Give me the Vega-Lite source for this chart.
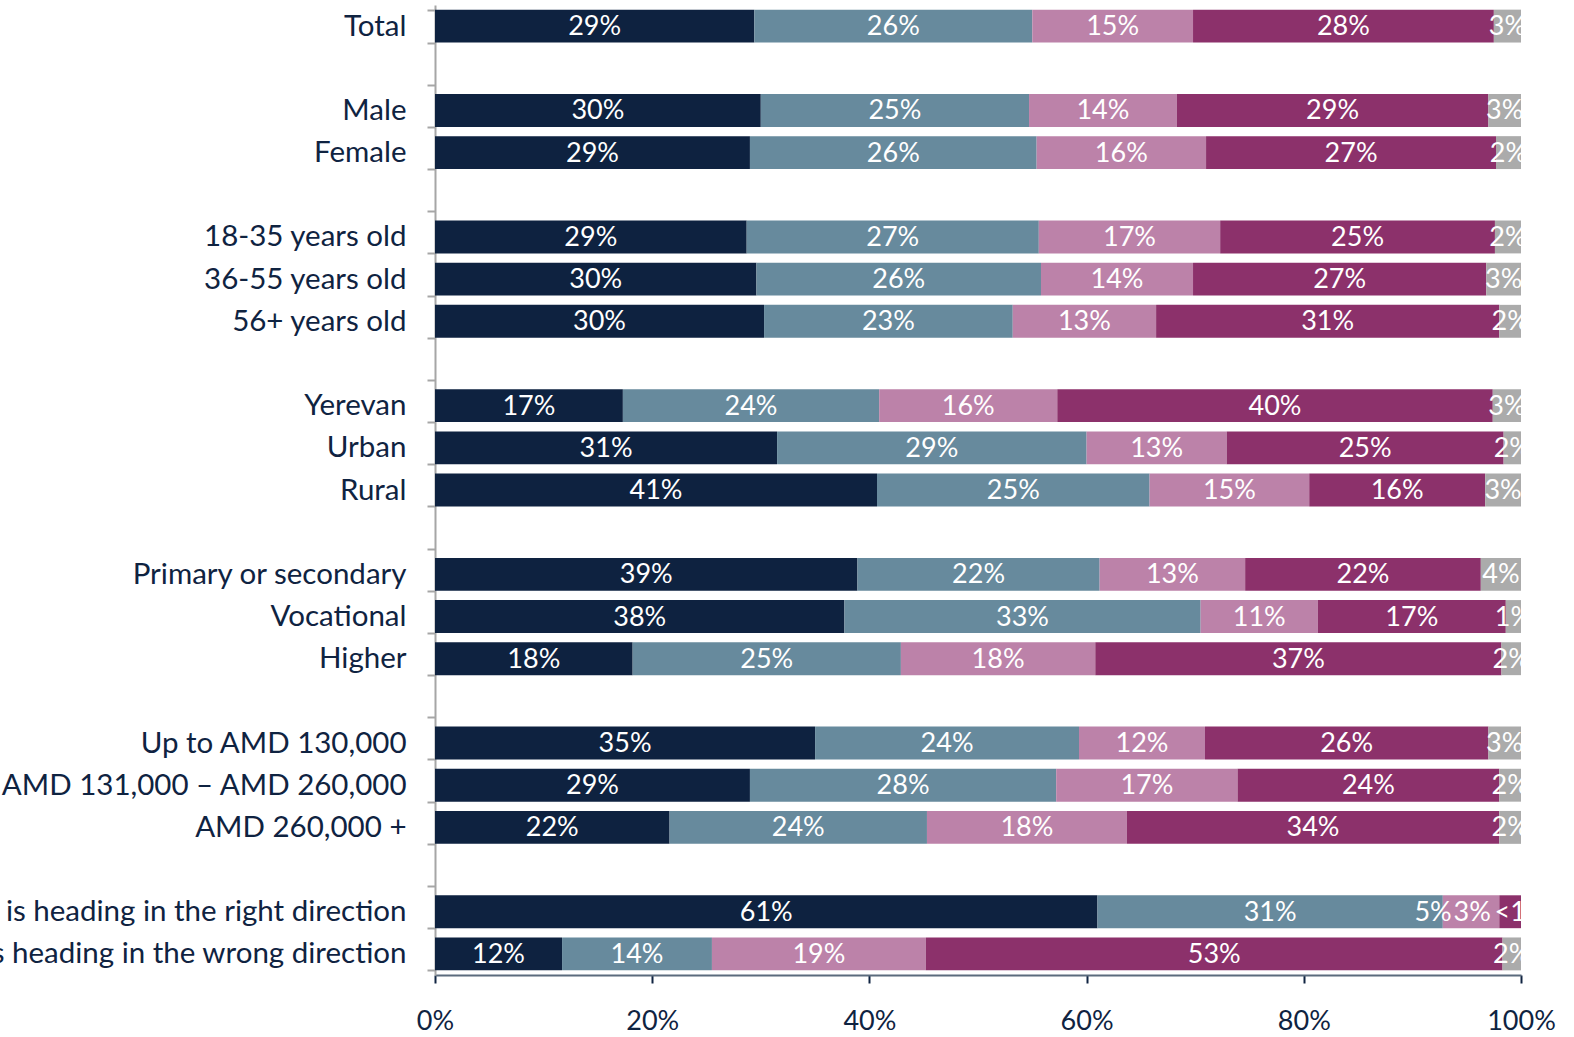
{
  "$schema": "https://vega.github.io/schema/vega-lite/v6.json",
  "width": 1086,
  "height": 970,
  "autosize": {"type": "none"},
  "padding": {"left": 435, "top": 5, "right": 53, "bottom": 62},
  "background": "white",
  "config": {"view": {"stroke": null}, "font": "Lato"},
  "datasets": {
    "survey": [
      {"group": "Total", "k": 1, "resp": "Very positive", "pct": 29.4, "label": "29%"},
      {"group": "Total", "k": 2, "resp": "Somewhat positive", "pct": 25.6, "label": "26%"},
      {"group": "Total", "k": 3, "resp": "Somewhat negative", "pct": 14.8, "label": "15%"},
      {"group": "Total", "k": 4, "resp": "Very negative", "pct": 27.7, "label": "28%"},
      {"group": "Total", "k": 5, "resp": "Don't know / Refused", "pct": 2.5, "label": "3%"},
      {"group": "Male", "k": 1, "resp": "Very positive", "pct": 30.0, "label": "30%"},
      {"group": "Male", "k": 2, "resp": "Somewhat positive", "pct": 24.7, "label": "25%"},
      {"group": "Male", "k": 3, "resp": "Somewhat negative", "pct": 13.6, "label": "14%"},
      {"group": "Male", "k": 4, "resp": "Very negative", "pct": 28.7, "label": "29%"},
      {"group": "Male", "k": 5, "resp": "Don't know / Refused", "pct": 3.0, "label": "3%"},
      {"group": "Female", "k": 1, "resp": "Very positive", "pct": 29.0, "label": "29%"},
      {"group": "Female", "k": 2, "resp": "Somewhat positive", "pct": 26.4, "label": "26%"},
      {"group": "Female", "k": 3, "resp": "Somewhat negative", "pct": 15.6, "label": "16%"},
      {"group": "Female", "k": 4, "resp": "Very negative", "pct": 26.7, "label": "27%"},
      {"group": "Female", "k": 5, "resp": "Don't know / Refused", "pct": 2.3, "label": "2%"},
      {"group": "18-35 years old", "k": 1, "resp": "Very positive", "pct": 28.7, "label": "29%"},
      {"group": "18-35 years old", "k": 2, "resp": "Somewhat positive", "pct": 26.9, "label": "27%"},
      {"group": "18-35 years old", "k": 3, "resp": "Somewhat negative", "pct": 16.7, "label": "17%"},
      {"group": "18-35 years old", "k": 4, "resp": "Very negative", "pct": 25.3, "label": "25%"},
      {"group": "18-35 years old", "k": 5, "resp": "Don't know / Refused", "pct": 2.4, "label": "2%"},
      {"group": "36-55 years old", "k": 1, "resp": "Very positive", "pct": 29.6, "label": "30%"},
      {"group": "36-55 years old", "k": 2, "resp": "Somewhat positive", "pct": 26.2, "label": "26%"},
      {"group": "36-55 years old", "k": 3, "resp": "Somewhat negative", "pct": 14.0, "label": "14%"},
      {"group": "36-55 years old", "k": 4, "resp": "Very negative", "pct": 27.0, "label": "27%"},
      {"group": "36-55 years old", "k": 5, "resp": "Don't know / Refused", "pct": 3.2, "label": "3%"},
      {"group": "56+ years old", "k": 1, "resp": "Very positive", "pct": 30.3, "label": "30%"},
      {"group": "56+ years old", "k": 2, "resp": "Somewhat positive", "pct": 22.9, "label": "23%"},
      {"group": "56+ years old", "k": 3, "resp": "Somewhat negative", "pct": 13.2, "label": "13%"},
      {"group": "56+ years old", "k": 4, "resp": "Very negative", "pct": 31.6, "label": "31%"},
      {"group": "56+ years old", "k": 5, "resp": "Don't know / Refused", "pct": 2.0, "label": "2%"},
      {"group": "Yerevan", "k": 1, "resp": "Very positive", "pct": 17.3, "label": "17%"},
      {"group": "Yerevan", "k": 2, "resp": "Somewhat positive", "pct": 23.6, "label": "24%"},
      {"group": "Yerevan", "k": 3, "resp": "Somewhat negative", "pct": 16.4, "label": "16%"},
      {"group": "Yerevan", "k": 4, "resp": "Very negative", "pct": 40.1, "label": "40%"},
      {"group": "Yerevan", "k": 5, "resp": "Don't know / Refused", "pct": 2.6, "label": "3%"},
      {"group": "Urban", "k": 1, "resp": "Very positive", "pct": 31.5, "label": "31%"},
      {"group": "Urban", "k": 2, "resp": "Somewhat positive", "pct": 28.5, "label": "29%"},
      {"group": "Urban", "k": 3, "resp": "Somewhat negative", "pct": 12.9, "label": "13%"},
      {"group": "Urban", "k": 4, "resp": "Very negative", "pct": 25.5, "label": "25%"},
      {"group": "Urban", "k": 5, "resp": "Don't know / Refused", "pct": 1.6, "label": "2%"},
      {"group": "Rural", "k": 1, "resp": "Very positive", "pct": 40.7, "label": "41%"},
      {"group": "Rural", "k": 2, "resp": "Somewhat positive", "pct": 25.1, "label": "25%"},
      {"group": "Rural", "k": 3, "resp": "Somewhat negative", "pct": 14.7, "label": "15%"},
      {"group": "Rural", "k": 4, "resp": "Very negative", "pct": 16.2, "label": "16%"},
      {"group": "Rural", "k": 5, "resp": "Don't know / Refused", "pct": 3.3, "label": "3%"},
      {"group": "Primary or secondary", "k": 1, "resp": "Very positive", "pct": 38.9, "label": "39%"},
      {"group": "Primary or secondary", "k": 2, "resp": "Somewhat positive", "pct": 22.3, "label": "22%"},
      {"group": "Primary or secondary", "k": 3, "resp": "Somewhat negative", "pct": 13.4, "label": "13%"},
      {"group": "Primary or secondary", "k": 4, "resp": "Very negative", "pct": 21.7, "label": "22%"},
      {"group": "Primary or secondary", "k": 5, "resp": "Don't know / Refused", "pct": 3.7, "label": "4%"},
      {"group": "Vocational", "k": 1, "resp": "Very positive", "pct": 37.7, "label": "38%"},
      {"group": "Vocational", "k": 2, "resp": "Somewhat positive", "pct": 32.8, "label": "33%"},
      {"group": "Vocational", "k": 3, "resp": "Somewhat negative", "pct": 10.8, "label": "11%"},
      {"group": "Vocational", "k": 4, "resp": "Very negative", "pct": 17.3, "label": "17%"},
      {"group": "Vocational", "k": 5, "resp": "Don't know / Refused", "pct": 1.4, "label": "1%"},
      {"group": "Higher", "k": 1, "resp": "Very positive", "pct": 18.2, "label": "18%"},
      {"group": "Higher", "k": 2, "resp": "Somewhat positive", "pct": 24.7, "label": "25%"},
      {"group": "Higher", "k": 3, "resp": "Somewhat negative", "pct": 17.9, "label": "18%"},
      {"group": "Higher", "k": 4, "resp": "Very negative", "pct": 37.4, "label": "37%"},
      {"group": "Higher", "k": 5, "resp": "Don't know / Refused", "pct": 1.8, "label": "2%"},
      {"group": "Up to AMD 130,000", "k": 1, "resp": "Very positive", "pct": 35.0, "label": "35%"},
      {"group": "Up to AMD 130,000", "k": 2, "resp": "Somewhat positive", "pct": 24.3, "label": "24%"},
      {"group": "Up to AMD 130,000", "k": 3, "resp": "Somewhat negative", "pct": 11.6, "label": "12%"},
      {"group": "Up to AMD 130,000", "k": 4, "resp": "Very negative", "pct": 26.1, "label": "26%"},
      {"group": "Up to AMD 130,000", "k": 5, "resp": "Don't know / Refused", "pct": 3.0, "label": "3%"},
      {"group": "AMD 131,000 – AMD 260,000", "k": 1, "resp": "Very positive", "pct": 29.0, "label": "29%"},
      {"group": "AMD 131,000 – AMD 260,000", "k": 2, "resp": "Somewhat positive", "pct": 28.2, "label": "28%"},
      {"group": "AMD 131,000 – AMD 260,000", "k": 3, "resp": "Somewhat negative", "pct": 16.7, "label": "17%"},
      {"group": "AMD 131,000 – AMD 260,000", "k": 4, "resp": "Very negative", "pct": 24.1, "label": "24%"},
      {"group": "AMD 131,000 – AMD 260,000", "k": 5, "resp": "Don't know / Refused", "pct": 2.0, "label": "2%"},
      {"group": "AMD 260,000 +", "k": 1, "resp": "Very positive", "pct": 21.6, "label": "22%"},
      {"group": "AMD 260,000 +", "k": 2, "resp": "Somewhat positive", "pct": 23.7, "label": "24%"},
      {"group": "AMD 260,000 +", "k": 3, "resp": "Somewhat negative", "pct": 18.4, "label": "18%"},
      {"group": "AMD 260,000 +", "k": 4, "resp": "Very negative", "pct": 34.3, "label": "34%"},
      {"group": "AMD 260,000 +", "k": 5, "resp": "Don't know / Refused", "pct": 2.0, "label": "2%"},
      {"group": "Armenia is heading in the right direction", "k": 1, "resp": "Very positive", "pct": 61.0, "label": "61%"},
      {"group": "Armenia is heading in the right direction", "k": 2, "resp": "Somewhat positive", "pct": 31.8, "label": "31%"},
      {"group": "Armenia is heading in the right direction", "k": 3, "resp": "Somewhat negative", "pct": 5.2, "label": "5%"},
      {"group": "Armenia is heading in the right direction", "k": 4, "resp": "Very negative", "pct": 2.0, "label": "3%"},
      {"group": "Armenia is heading in the right direction", "k": 5, "resp": "Don't know / Refused", "pct": 0.0, "label": "<1%"},
      {"group": "Armenia is heading in the wrong direction", "k": 1, "resp": "Very positive", "pct": 11.7, "label": "12%"},
      {"group": "Armenia is heading in the wrong direction", "k": 2, "resp": "Somewhat positive", "pct": 13.8, "label": "14%"},
      {"group": "Armenia is heading in the wrong direction", "k": 3, "resp": "Somewhat negative", "pct": 19.7, "label": "19%"},
      {"group": "Armenia is heading in the wrong direction", "k": 4, "resp": "Very negative", "pct": 53.1, "label": "53%"},
      {"group": "Armenia is heading in the wrong direction", "k": 5, "resp": "Don't know / Refused", "pct": 1.7, "label": "2%"}
    ]
  },
  "data": {"name": "survey"},
  "transform": [
    {"stack": "pct", "groupby": ["group"], "sort": [{"field": "k", "order": "ascending"}], "offset": "normalize", "as": ["x0", "x1"]},
    {"calculate": "(datum.x0 + datum.x1) / 2", "as": "mid"}
  ],
  "encoding": {
    "y": {
      "field": "group",
      "type": "nominal",
      "title": null,
      "scale": {
        "domain": ["Total", "blank1", "Male", "Female", "blank2", "18-35 years old", "36-55 years old", "56+ years old", "blank3", "Yerevan", "Urban", "Rural", "blank4", "Primary or secondary", "Vocational", "Higher", "blank5", "Up to AMD 130,000", "AMD 131,000 – AMD 260,000", "AMD 260,000 +", "blank6", "Armenia is heading in the right direction", "Armenia is heading in the wrong direction"],
        "paddingInner": 0.22,
        "paddingOuter": 0.11
      },
      "axis": {
        "labelExpr": "slice(datum.label, 0, 5) == 'blank' ? '' : datum.label",
        "labelFont": "Lato",
        "labelFontSize": 29.5,
        "labelColor": "#0f2341",
        "labelPadding": 21,
        "labelLimit": 3000,
        "domainColor": "#a6a6a6",
        "domainWidth": 2,
        "tickColor": "#a6a6a6",
        "tickWidth": 2,
        "tickSize": 8,
        "tickBand": "extent",
        "grid": false
      }
    }
  },
  "layer": [
    {
      "mark": {"type": "bar"},
      "encoding": {
        "x": {
          "field": "x0",
          "type": "quantitative",
          "title": null,
          "scale": {"domain": [0, 1], "nice": false},
          "axis": {
            "values": [0, 0.2, 0.4, 0.6, 0.8, 1],
            "format": ".0%",
            "labelFont": "Lato",
            "labelFontSize": 27,
            "labelColor": "#0f2341",
            "labelPadding": 25,
            "labelFlush": false,
            "domainColor": "#5b6b7d",
            "domainWidth": 2,
            "tickColor": "#0f2341",
            "tickWidth": 2,
            "tickSize": 8,
            "grid": false
          }
        },
        "x2": {"field": "x1"},
        "color": {
          "field": "resp",
          "type": "nominal",
          "legend": null,
          "scale": {
            "domain": ["Very positive", "Somewhat positive", "Somewhat negative", "Very negative", "Don't know / Refused"],
            "range": ["#0e2240", "#678a9d", "#bc82a9", "#8c316b", "#ababab"]
          }
        }
      }
    },
    {
      "transform": [{"filter": "!(datum.group == 'Armenia is heading in the right direction' && (datum.k == 3 || datum.k == 4))"}],
      "mark": {"type": "text", "color": "white", "font": "Lato", "fontSize": 27, "baseline": "middle", "dy": 1, "clip": true},
      "encoding": {
        "x": {"field": "mid", "type": "quantitative"},
        "text": {"field": "label", "type": "nominal"}
      }
    },
    {
      "transform": [{"filter": "datum.group == 'Armenia is heading in the right direction' && (datum.k == 3 || datum.k == 4)"}],
      "mark": {"type": "text", "color": "white", "font": "Lato", "fontSize": 27, "baseline": "middle", "dy": 1, "dx": -38, "clip": true},
      "encoding": {
        "x": {"field": "mid", "type": "quantitative"},
        "text": {"field": "label", "type": "nominal"}
      }
    }
  ]
}
